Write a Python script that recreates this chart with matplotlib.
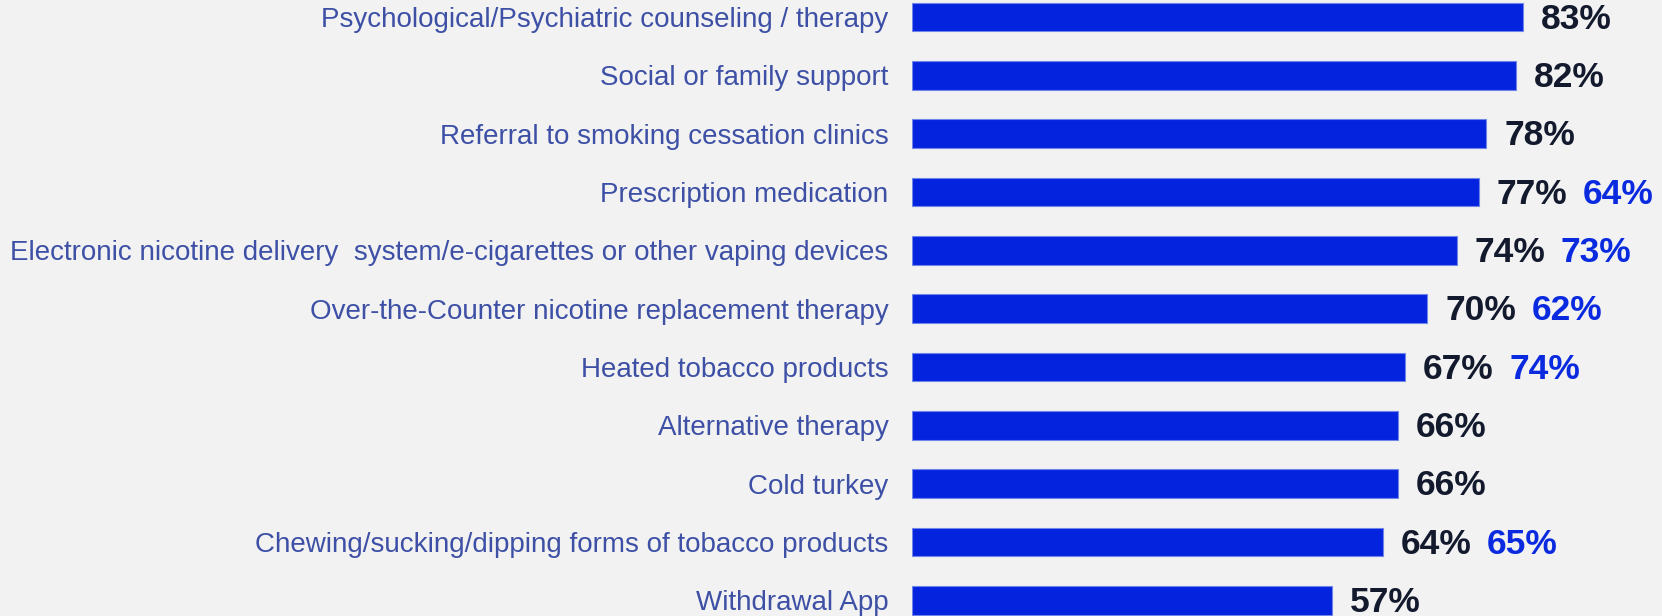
import matplotlib
matplotlib.use("Agg")
import matplotlib.pyplot as plt

categories = [
    "Psychological/Psychiatric counseling / therapy",
    "Social or family support",
    "Referral to smoking cessation clinics",
    "Prescription medication",
    "Electronic nicotine delivery  system/e-cigarettes or other vaping devices",
    "Over-the-Counter nicotine replacement therapy",
    "Heated tobacco products",
    "Alternative therapy",
    "Cold turkey",
    "Chewing/sucking/dipping forms of tobacco products",
    "Withdrawal App",
]
primary_values = [83, 82, 78, 77, 74, 70, 67, 66, 66, 64, 57]
secondary_values = [None, None, None, 64, 73, 62, 74, None, None, 65, None]

BG = "#f2f2f2"
BAR_COLOR = "#0323df"
CAT_COLOR = "#3d50a6"
VALUE_COLOR = "#141a2e"
SECOND_COLOR = "#0a2ae0"

W, H = 1662, 616
fig = plt.figure(figsize=(W / 100, H / 100), dpi=100, facecolor=BG)
left = 912 / W
ax = fig.add_axes([left, 0, 1 - left, 1])
ax.set_facecolor(BG)

y = list(range(len(categories)))
ax.barh(y, primary_values, height=0.49, color=BAR_COLOR, edgecolor="#6f86e8", linewidth=0.8)

ax.set_xlim(0, 750 / 7.36)
ax.set_ylim(10.27, -0.29)

ax.set_yticks(y)
ax.set_yticklabels(categories, fontsize=20, color=CAT_COLOR, family="Liberation Sans")
ax.tick_params(axis="y", length=0, pad=17)
ax.set_xticks([])
for s in ax.spines.values():
    s.set_visible(False)

for yi, v, v2 in zip(y, primary_values, secondary_values):
    t = ax.annotate(f"{v}%", xy=(v, yi), xytext=(13, 1), textcoords="offset points",
                    va="center_baseline", ha="left", fontsize=25.5, fontweight="bold",
                    color=VALUE_COLOR, family="Liberation Sans",
                    annotation_clip=False)
    if v2 is not None:
        ax.annotate(f"{v2}%", xy=(1, 0.5), xycoords=t, xytext=(11, 0),
                    textcoords="offset points", va="center", ha="left",
                    fontsize=25.5, fontweight="bold", color=SECOND_COLOR,
                    family="Liberation Sans")

fig.savefig("out.png", dpi=100, facecolor=BG)
